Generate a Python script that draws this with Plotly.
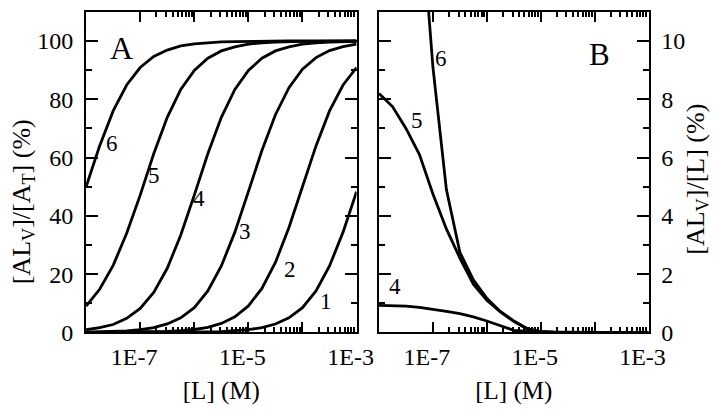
import plotly.graph_objects as go

# log10 of ligand concentration [L] (M), quarter-decade grid
log_l = [-8.0, -7.75, -7.5, -7.25, -7.0, -6.75, -6.5, -6.25, -6.0, -5.75, -5.5,
         -5.25, -5.0, -4.75, -4.5, -4.25, -4.0, -3.75, -3.5, -3.25, -3.0]
conc = [10 ** v for v in log_l]

# panel A: [ALv]/[AT] (%)
a_1 = [0.0, 0.0, 0.0, 0.0, 0.01, 0.02, 0.03, 0.05, 0.09, 0.17, 0.29, 0.52, 0.92,
       1.63, 2.87, 4.99, 8.5, 14.2, 22.8, 34.4, 48.3]
a_2 = [0.01, 0.02, 0.03, 0.06, 0.1, 0.18, 0.32, 0.56, 0.99, 1.75, 3.07, 5.32, 9.09,
       15.1, 24.0, 36.0, 50.0, 64.0, 76.0, 84.9, 90.9]
a_3 = [0.1, 0.2, 0.3, 0.5, 0.9, 1.6, 2.9, 5.0, 8.5, 14.2, 22.8, 34.4, 48.3, 62.4,
       74.7, 84.0, 90.3, 94.3, 96.7, 98.1, 98.9]
a_4 = [0.9, 1.6, 2.7, 4.8, 8.2, 13.7, 22.0, 33.4, 47.1, 61.3, 73.8, 83.4, 89.9,
       94.1, 96.6, 98.0, 98.9, 99.4, 99.6, 99.8, 99.9]
a_5 = [9.0, 14.8, 23.0, 34.0, 47.1, 61.3, 73.8, 83.4, 89.9, 94.1, 96.6, 98.0, 98.9,
       99.4, 99.6, 99.8, 99.9, 99.9, 100, 100, 100]
a_6 = [50.0, 64.0, 76.0, 84.9, 90.9, 94.7, 96.9, 98.3, 99.0, 99.4, 99.7, 99.8, 99.9,
       99.9, 100, 100, 100, 100, 100, 100, 100]

# panel B: [ALv]/[L] (%)
b_4 = [0.93, 0.92, 0.9, 0.86, 0.8, 0.72, 0.64, 0.53, 0.39, 0.24, 0.07, 0.03, 0.01,
       0, 0, 0, 0, 0, 0, 0, 0]
b_5 = [8.2, 7.75, 7.0, 6.1, 4.75, 3.55, 2.55, 1.65, 1.1, 0.7, 0.38, 0.12, 0.02,
       0.01, 0, 0, 0, 0, 0, 0, 0]
b_6 = [50.0, 36.0, 24.0, 15.1, 9.1, 4.9, 2.75, 1.8, 1.17, 0.72, 0.39, 0.13, 0.03,
       0.01, 0, 0, 0, 0, 0, 0, 0]

x_tickvals = [1e-7, 1e-6, 1e-5, 1e-4, 1e-3]
x_ticktext = ['1E-7', ' ', '1E-5', ' ', '1E-3']
x_minor = [k * 10 ** d for d in (-7, -6, -5, -4) for k in range(2, 10)]

SERIF = 'Liberation Serif'
W, H = 720, 410

fig = go.Figure()

for ys in (a_1, a_2, a_3, a_4, a_5, a_6):
    fig.add_trace(go.Scatter(x=conc, y=ys, mode='lines', xaxis='x', yaxis='y',
                             line=dict(color='black', width=2.8), showlegend=False))
for ys in (b_4, b_5, b_6):
    fig.add_trace(go.Scatter(x=conc, y=ys, mode='lines', xaxis='x2', yaxis='y2',
                             line=dict(color='black', width=2.8), showlegend=False))

common = dict(showline=True, linecolor='black', linewidth=2, mirror='ticks',
              ticks='inside', tickcolor='black', tickwidth=2, showgrid=False,
              zeroline=False, tickfont=dict(family=SERIF, size=24, color='black'))

xcommon = dict(common, type='log', range=[-8, -3], tickmode='array',
               tickvals=x_tickvals, ticktext=x_ticktext, ticklen=10,
               ticklabelshift=-6, ticklabelstandoff=2,
               minor=dict(tickmode='array', tickvals=x_minor, ticklen=5,
                          ticks='inside', tickcolor='black', tickwidth=1.5),
               title=dict(text='[L] (M)', font=dict(family=SERIF, size=25, color='black'),
                          standoff=12))

ydom = [(H - 335) / H, (H - 4) / H]

fig.update_layout(
    width=W, height=H,
    margin=dict(l=0, r=0, t=0, b=0),
    paper_bgcolor='white', plot_bgcolor='white',
    xaxis=dict(xcommon, domain=[80 / W, 357 / W], anchor='y'),
    xaxis2=dict(xcommon, domain=[380 / W, 656 / W], anchor='y2'),
    yaxis=dict(common, domain=ydom, anchor='x', range=[0, 110], tickmode='array',
               tickvals=[0, 20, 40, 60, 80, 100], ticklen=12, ticklabelstandoff=6,
               minor=dict(tickmode='linear', tick0=0, dtick=10, ticklen=6,
                          ticks='inside', tickcolor='black', tickwidth=1.5)),
    yaxis2=dict(common, domain=ydom, anchor='x2', side='right', range=[0, 11],
                tickmode='array', tickvals=[0, 2, 4, 6, 8, 10], ticklen=12,
                ticklabelstandoff=6,
                minor=dict(tickmode='linear', tick0=0, dtick=1, ticklen=6,
                           ticks='inside', tickcolor='black', tickwidth=1.5)),
)

lab = dict(family=SERIF, size=23, color='black')
notes = [
    ('x', 'y', -7.52, 64.8, '6'), ('x', 'y', -6.74, 53.8, '5'),
    ('x', 'y', -5.91, 45.8, '4'), ('x', 'y', -5.07, 34.6, '3'),
    ('x', 'y', -4.24, 21.6, '2'), ('x', 'y', -3.57, 10.6, '1'),
    ('x2', 'y2', -6.85, 9.40, '6'), ('x2', 'y2', -7.30, 7.28, '5'),
    ('x2', 'y2', -7.70, 1.59, '4'),
]
for xr, yr, xv, yv, t in notes:
    fig.add_annotation(xref=xr, yref=yr, x=xv, y=yv, text=t, showarrow=False, font=lab)

fig.add_annotation(xref='x', yref='y', x=-7.34, y=97.7, text='A', showarrow=False,
                   font=dict(family=SERIF, size=32, color='black'))
fig.add_annotation(xref='x2', yref='y2', x=-3.91, y=9.53, text='B', showarrow=False,
                   font=dict(family=SERIF, size=31, color='black'))

fig.add_annotation(xref='paper', yref='paper', x=15 / W, y=(H - 200) / H,
                   xanchor='center', yanchor='middle',
                   text='[AL<sub>V</sub>]/[A<sub>T</sub>] (%)', textangle=-90,
                   showarrow=False, font=dict(family=SERIF, size=26, color='black'))
fig.add_annotation(xref='paper', yref='paper', x=706 / W, y=(H - 177) / H,
                   xanchor='center', yanchor='middle',
                   text='[AL<sub>V</sub>]/[L] (%)', textangle=-90,
                   showarrow=False, font=dict(family=SERIF, size=26, color='black'))

fig.write_html('out.html')
